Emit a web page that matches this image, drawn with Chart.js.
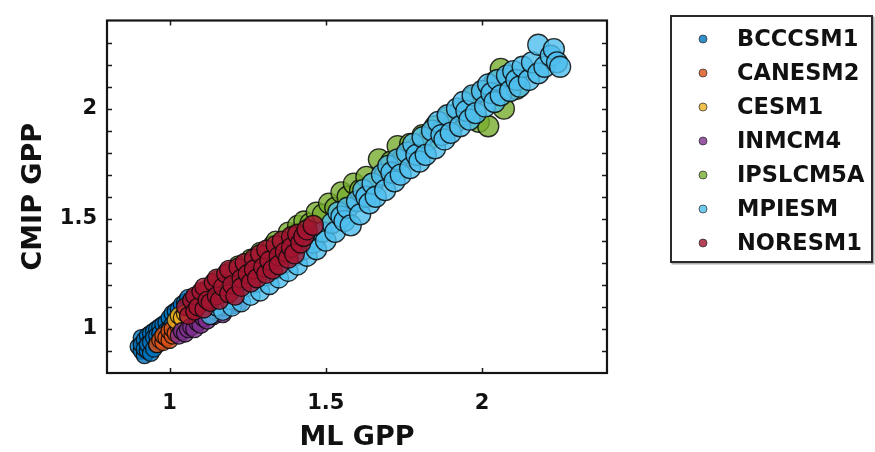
<!DOCTYPE html>
<html>
<head>
<meta charset="utf-8">
<script src="https://cdn.jsdelivr.net/npm/chart.js@4.4.1/dist/chart.umd.min.js"></script>
<style>
  html, body { margin: 0; padding: 0; background: #fff; }
  #wrap { width: 875px; height: 452px; position: relative; }
</style>
</head>
<body>
<div id="wrap"><canvas id="c" width="875" height="452"></canvas></div>
<script>
// ---- data ----
const modelNames = ['BCCCSM1', 'CANESM2', 'CESM1', 'INMCM4', 'IPSLCM5A', 'MPIESM', 'NORESM1'];

const bccX = [0.90,0.91,0.91,0.91,0.92,0.92,0.92,0.93,0.93,0.93,0.94,0.94,0.94,0.95,0.95,0.95,0.96,0.96,0.96,0.97,0.97,0.97,0.98,0.98,0.99,0.99,1.00,1.00,1.01,1.01,1.02,1.03,1.04,1.05,1.06,1.07,1.09,1.11,1.13];
const bccY = [0.92,0.90,0.96,0.93,0.88,0.95,0.91,0.90,0.97,0.93,0.89,0.98,0.94,0.91,0.99,0.96,0.93,1.00,0.97,0.94,1.01,0.98,1.02,0.97,1.03,0.99,1.05,1.00,1.07,1.02,1.08,1.09,1.11,1.12,1.14,1.13,1.15,1.16,1.18];

const canX = [0.96,0.97,0.98,0.98,0.99,1.00,1.00,1.01,1.01,1.02,1.03,1.04];
const canY = [0.93,0.95,0.94,0.97,0.96,0.95,0.99,0.97,1.00,0.98,1.01,1.00];

const cesX = [1.02,1.03,1.04,1.05,1.06];
const cesY = [1.04,1.06,1.05,1.07,1.06];

const inmX = [1.03,1.04,1.05,1.06,1.07,1.08,1.09,1.10,1.11,1.12,1.14,1.15,1.17,1.18,1.20,1.22];
const inmY = [0.97,0.99,0.98,1.00,1.01,1.00,1.03,1.02,1.05,1.04,1.06,1.08,1.07,1.10,1.11,1.12];

const ipsX = [1.12,1.15,1.17,1.19,1.21,1.22,1.24,1.26,1.27,1.29,1.31,1.33,1.34,1.36,1.38,1.40,1.41,1.43,1.45,1.47,1.49,1.51,1.53,1.55,1.57,1.59,1.61,1.63,1.65,1.67,1.69,1.71,1.73,1.75,1.77,1.79,1.81,1.83,1.85,1.87,1.89,1.91,1.93,1.95,1.97,1.99,2.01,2.02,2.04,2.06,2.07,2.09,2.11];
const ipsY = [1.18,1.22,1.21,1.26,1.25,1.29,1.28,1.32,1.31,1.35,1.34,1.38,1.40,1.39,1.44,1.43,1.47,1.49,1.48,1.53,1.52,1.57,1.55,1.62,1.60,1.66,1.63,1.69,1.66,1.77,1.70,1.76,1.83,1.78,1.84,1.82,1.88,1.86,1.92,1.90,1.96,1.93,1.99,1.97,2.05,1.94,2.08,1.92,2.12,2.18,2.00,2.14,2.09];

const mpiX = [1.13,1.15,1.17,1.19,1.20,1.22,1.23,1.25,1.26,1.28,1.29,1.31,1.32,1.34,1.35,1.37,1.38,1.40,1.41,1.43,1.44,1.45,1.46,1.47,1.49,1.50,1.52,1.53,1.54,1.55,1.56,1.57,1.58,1.60,1.61,1.62,1.63,1.64,1.65,1.66,1.68,1.69,1.70,1.71,1.72,1.73,1.74,1.76,1.77,1.78,1.79,1.80,1.81,1.82,1.84,1.85,1.86,1.87,1.88,1.89,1.90,1.92,1.93,1.94,1.95,1.96,1.97,1.98,2.00,2.01,2.02,2.03,2.04,2.05,2.06,2.08,2.09,2.10,2.11,2.12,2.13,2.15,2.16,2.18,2.18,2.20,2.22,2.23,2.24,2.25];
const mpiY = [1.06,1.10,1.08,1.13,1.10,1.16,1.12,1.19,1.15,1.21,1.17,1.24,1.20,1.27,1.23,1.30,1.26,1.33,1.29,1.36,1.33,1.41,1.39,1.36,1.44,1.40,1.48,1.44,1.53,1.51,1.49,1.55,1.47,1.58,1.52,1.63,1.60,1.57,1.66,1.60,1.70,1.63,1.74,1.71,1.67,1.77,1.70,1.80,1.73,1.84,1.79,1.76,1.87,1.79,1.90,1.82,1.94,1.88,1.86,1.97,1.89,2.00,1.92,2.03,1.99,1.95,2.06,1.98,2.08,2.01,2.11,2.07,2.03,2.13,2.06,2.15,2.08,2.17,2.13,2.10,2.19,2.13,2.21,2.16,2.29,2.19,2.24,2.27,2.21,2.19];

const norX = [1.05,1.06,1.07,1.08,1.08,1.09,1.10,1.11,1.11,1.12,1.13,1.14,1.15,1.15,1.16,1.17,1.18,1.19,1.19,1.20,1.21,1.22,1.23,1.23,1.24,1.25,1.26,1.27,1.27,1.28,1.29,1.30,1.31,1.31,1.32,1.33,1.34,1.35,1.35,1.36,1.37,1.38,1.39,1.39,1.40,1.41,1.42,1.43,1.44,1.46];
const norY = [1.10,1.06,1.13,1.08,1.15,1.10,1.17,1.09,1.19,1.13,1.12,1.21,1.15,1.23,1.13,1.19,1.25,1.16,1.27,1.20,1.15,1.28,1.23,1.19,1.30,1.25,1.21,1.32,1.27,1.23,1.34,1.28,1.25,1.36,1.31,1.27,1.38,1.33,1.29,1.40,1.35,1.32,1.42,1.37,1.34,1.43,1.39,1.42,1.45,1.47];

const seriesX = [bccX, canX, cesX, inmX, ipsX, mpiX, norX];
const seriesY = [bccY, canY, cesY, inmY, ipsY, mpiY, norY];

const xTicks = [1, 1.5, 2];
const xTickLabels = ['1', '1.5', '2'];
const yTicks = [1, 1.5, 2];
const yTickLabels = ['1', '1.5', '2'];
const yMinorTicks = [0.9, 1.1, 1.2, 1.3, 1.4, 1.6, 1.7, 1.8, 1.9, 2.1, 2.2, 2.3];

// ---- styles ----
const faceColors = ['rgba(0,114,189,0.8)', 'rgba(217,83,25,0.8)', 'rgba(237,177,32,0.8)', 'rgba(126,47,142,0.8)', 'rgba(119,172,48,0.8)', 'rgba(77,190,238,0.8)', 'rgba(162,20,47,0.8)'];
const FONT = "'DejaVu Sans', sans-serif";

const datasets = modelNames.map((name, i) => ({
  label: name,
  data: seriesX[i].map((x, k) => ({ x: x, y: seriesY[i][k] })),
  backgroundColor: faceColors[i],
  borderColor: 'rgba(10,10,10,0.85)',
  borderWidth: 1.3,
  pointRadius: ctx => Math.min(10.5, 5.0 + 3.5 * (ctx.raw ? ctx.raw.x : 1)),
  order: modelNames.length - i
}));

const framePlugin = {
  id: 'frame',
  afterDatasetsDraw(chart) {
    const { ctx, chartArea: a, scales } = chart;
    const x = scales.x, y = scales.y;
    ctx.save();
    ctx.strokeStyle = '#1a1a1a';
    ctx.lineWidth = 1.5;
    ctx.beginPath();
    xTicks.forEach(v => {
      const px = Math.round(x.getPixelForValue(v)) + 0.5;
      ctx.moveTo(px, a.bottom); ctx.lineTo(px, a.bottom - 5);
      ctx.moveTo(px, a.top); ctx.lineTo(px, a.top + 5);
    });
    yTicks.concat(yMinorTicks).forEach(v => {
      const py = Math.round(y.getPixelForValue(v)) + 0.5;
      ctx.moveTo(a.left, py); ctx.lineTo(a.left + 5, py);
      ctx.moveTo(a.right, py); ctx.lineTo(a.right - 5, py);
    });
    ctx.stroke();
    ctx.lineWidth = 2.2;
    ctx.strokeStyle = '#141414';
    ctx.strokeRect(a.left, a.top, a.right - a.left, a.bottom - a.top);
    ctx.restore();
  },
  afterDraw(chart) {
    const ctx = chart.ctx;
    const bx = 671, by = 16, bw = 201, bh = 246;
    ctx.save();
    ctx.strokeStyle = 'rgba(120,120,120,0.6)';
    ctx.lineWidth = 2;
    ctx.strokeRect(bx + 1.5, by + 1.5, bw, bh);
    ctx.fillStyle = '#fff';
    ctx.fillRect(bx, by, bw, bh);
    ctx.strokeStyle = '#2a2a2a';
    ctx.lineWidth = 2;
    ctx.strokeRect(bx, by, bw, bh);
    ctx.font = "bold 22.5px " + FONT;
    ctx.textBaseline = 'middle';
    ctx.textAlign = 'left';
    chart.data.datasets.forEach((ds, i) => {
      const cy = 39 + 34 * i;
      ctx.beginPath();
      ctx.arc(703, cy, 4, 0, Math.PI * 2);
      ctx.fillStyle = ds.backgroundColor;
      ctx.fill();
      ctx.strokeStyle = 'rgba(40,40,40,0.7)';
      ctx.lineWidth = 1;
      ctx.stroke();
      ctx.fillStyle = '#111';
      ctx.fillText(ds.label, 737, cy + 1);
    });
    ctx.restore();
  }
};

new Chart(document.getElementById('c'), {
  type: 'scatter',
  data: { datasets: datasets },
  options: {
    responsive: false,
    animation: false,
    events: [],
    layout: { padding: { top: 11, right: 268, left: 0, bottom: 0 } },
    plugins: { legend: { display: false }, tooltip: { enabled: false } },
    scales: {
      x: {
        type: 'linear', min: 0.8, max: 2.4,
        afterBuildTicks: s => { s.ticks = xTicks.map(v => ({ value: v })); },
        afterFit: s => { s.height = 79; },
        grid: { display: false, drawTicks: false },
        border: { display: false },
        ticks: {
          color: '#111', padding: 20, maxRotation: 0,
          font: { family: FONT, size: 21, weight: 'bold', lineHeight: 1 },
          callback: (v, idx) => xTickLabels[idx]
        },
        title: {
          display: true, text: 'ML GPP', color: '#111',
          font: { family: FONT, size: 27, weight: 'bold', lineHeight: 1 },
          padding: { top: 0, bottom: 1 }
        }
      },
      y: {
        type: 'linear', min: 0.8, max: 2.4,
        afterBuildTicks: s => { s.ticks = yTicks.map(v => ({ value: v })); },
        afterFit: s => { s.width = 107; },
        grid: { display: false, drawTicks: false },
        border: { display: false },
        ticks: {
          color: '#111', padding: 10,
          font: { family: FONT, size: 21, weight: 'bold', lineHeight: 1 },
          callback: (v, idx) => yTickLabels[idx]
        },
        title: {
          display: true, text: 'CMIP GPP', color: '#111',
          font: { family: FONT, size: 27, weight: 'bold', lineHeight: 1 },
          padding: { top: 20, bottom: 0 }
        }
      }
    }
  },
  plugins: [framePlugin]
});
</script>
</body>
</html>
